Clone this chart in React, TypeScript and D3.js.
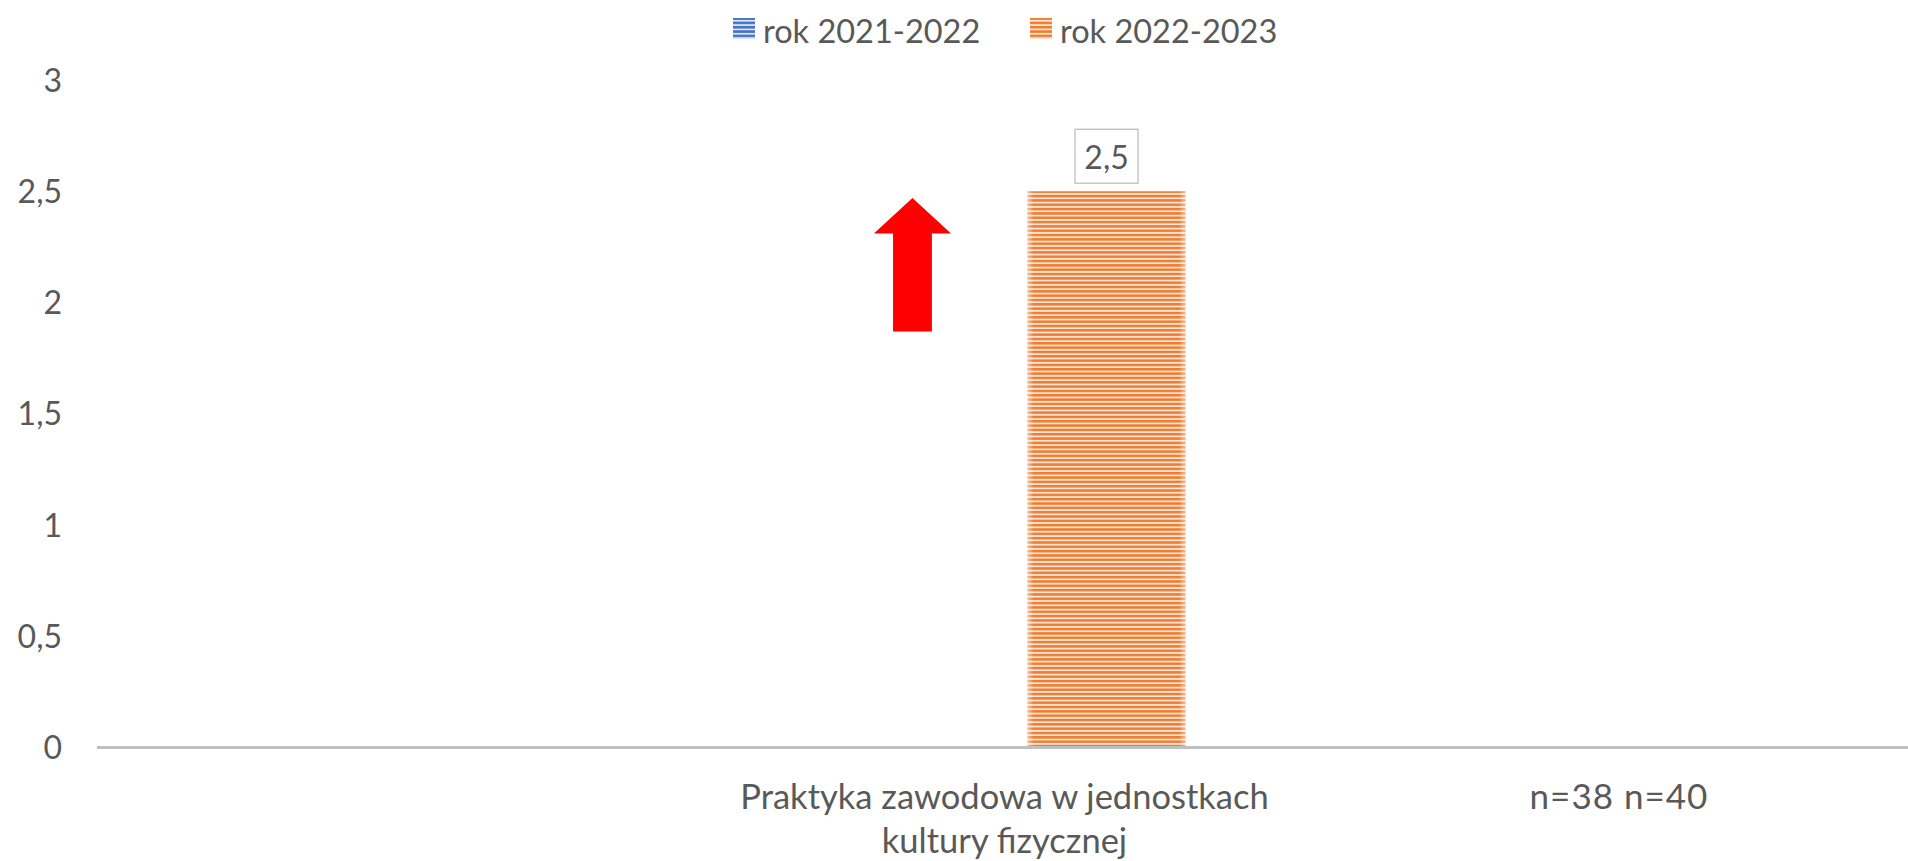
import React from "react";
import * as d3 from "d3";

const CATEGORY_LABELS: string[][] = [["Praktyka zawodowa w jednostkach", "kultury fizycznej"]];
const SERIES = ["rok 2021-2022", "rok 2022-2023"];
const VALUES_2021_2022: (number | null)[] = [null];
const VALUES_2022_2023: (number | null)[] = [2.5];
const Y_TICKS = [0, 0.5, 1, 1.5, 2, 2.5, 3];
const NOTE_TEXT = "n=38 n=40";
// arrow annotation (data units) at category 0, series 0 slot
const ARROW_CATEGORY = 0;
const ARROW_TIP = 2.47;
const ARROW_NECK = 2.31;
const ARROW_BASE = 1.87;

const W = 1908;
const H = 861;
const FONT = "Lato, 'Open Sans', sans-serif";
const TEXT = "#595959";
const COLORS = ["#4472C4", "#ED7D31"];
const LIGHT = ["#DAE3F3", "#FCE4D6"];

export default function App() {
  const y = d3.scaleLinear().domain([0, 3]).range([747.5, 80]);
  const x0 = d3
    .scaleBand<number>()
    .domain(d3.range(CATEGORY_LABELS.length))
    .range([97, 1924])
    .paddingInner(0)
    .paddingOuter(0);
  const x1 = d3
    .scaleBand<string>()
    .domain(SERIES)
    .range([0, x0.bandwidth()])
    .paddingInner(0.177)
    .paddingOuter(3.845);
  const seriesValues = [VALUES_2021_2022, VALUES_2022_2023];
  const fmt = (v: number) => String(v).replace(".", ",");
  const bw = x1.bandwidth();

  const ax = (x0(ARROW_CATEGORY) as number) + (x1(SERIES[0]) as number) + bw / 2 - 2;
  const headHalf = bw * 0.244;
  const shaftHalf = bw * 0.123;
  const arrowPath = d3.path();
  arrowPath.moveTo(ax, y(ARROW_TIP));
  arrowPath.lineTo(ax + headHalf, y(ARROW_NECK));
  arrowPath.lineTo(ax + shaftHalf, y(ARROW_NECK));
  arrowPath.lineTo(ax + shaftHalf, y(ARROW_BASE));
  arrowPath.lineTo(ax - shaftHalf, y(ARROW_BASE));
  arrowPath.lineTo(ax - shaftHalf, y(ARROW_NECK));
  arrowPath.lineTo(ax - headHalf, y(ARROW_NECK));
  arrowPath.closePath();

  const legendX = [733, 1030];

  return (
    <svg
      width={W}
      height={H}
      style={{ position: "absolute", left: 0, top: 0, display: "block", background: "#fff" }}
      fontFamily={FONT}
    >
      <defs>
        {SERIES.map((s, i) => (
          <pattern
            key={s}
            id={`stripe${i}`}
            patternUnits="userSpaceOnUse"
            width={8}
            height={4.33}
          >
            <rect width={8} height={4.33} fill={LIGHT[i]} />
            <rect width={8} height={2.5} fill={COLORS[i]} />
          </pattern>
        ))}
        <linearGradient id="edgeFade" x1="0" x2="1" y1="0" y2="0">
          <stop offset="0" stopColor="#fff" stopOpacity={0.5} />
          <stop offset="0.04" stopColor="#fff" stopOpacity={0} />
          <stop offset="0.96" stopColor="#fff" stopOpacity={0} />
          <stop offset="1" stopColor="#fff" stopOpacity={0.5} />
        </linearGradient>
      </defs>

      {/* legend */}
      {SERIES.map((s, i) => (
        <g key={s}>
          <rect x={legendX[i]} y={18} width={22} height={21} fill={`url(#stripe${i})`} />
          <text x={legendX[i] + 30} y={43} fontSize={32.5} fill={TEXT}>
            {s}
          </text>
        </g>
      ))}

      {/* y tick labels */}
      {Y_TICKS.map((t) => (
        <text
          key={t}
          x={62}
          y={y(t)}
          dy="0.36em"
          textAnchor="end"
          fontSize={32}
          fill={TEXT}
        >
          {fmt(t)}
        </text>
      ))}

      {/* bars */}
      {CATEGORY_LABELS.map((_, ci) =>
        SERIES.map((s, si) => {
          const v = seriesValues[si][ci];
          if (v == null) return null;
          const bx = (x0(ci) as number) + (x1(s) as number);
          return (
            <g key={`${ci}-${si}`}>
              <rect x={bx} y={y(v)} width={bw} height={y(0) - y(v)} fill={`url(#stripe${si})`} />
              <rect x={bx} y={y(v)} width={bw} height={y(0) - y(v)} fill="url(#edgeFade)" />
            </g>
          );
        })
      )}

      {/* data labels */}
      {CATEGORY_LABELS.map((_, ci) =>
        SERIES.map((s, si) => {
          const v = seriesValues[si][ci];
          if (v == null) return null;
          const cx = (x0(ci) as number) + (x1(s) as number) + bw / 2;
          const top = y(v);
          return (
            <g key={`lbl-${ci}-${si}`}>
              <rect
                x={cx - 31.5}
                y={top - 62}
                width={63}
                height={54}
                fill="#fff"
                stroke="#BFBFBF"
                strokeWidth={1.3}
              />
              <text x={cx} y={top - 22} textAnchor="middle" fontSize={32} fill={TEXT}>
                {fmt(v)}
              </text>
            </g>
          );
        })
      )}

      {/* axis line */}
      <line x1={97} x2={x0.range()[1]} y1={y(0)} y2={y(0)} stroke="#BFBFBF" strokeWidth={3} />

      {/* category labels */}
      {CATEGORY_LABELS.map((lines, ci) => {
        const cx = (x0(ci) as number) + x0.bandwidth() / 2 - 6;
        return (
          <text key={ci} textAnchor="middle" fontSize={34.5} fill={TEXT}>
            {lines.map((l, li) => (
              <tspan key={li} x={cx} y={809 + li * 44}>
                {l}
              </tspan>
            ))}
          </text>
        );
      })}

      {/* sample size note */}
      <text x={1619} y={809} textAnchor="middle" fontSize={35} letterSpacing={1} fill={TEXT}>
        {NOTE_TEXT}
      </text>

      {/* arrow annotation */}
      <path d={arrowPath.toString()} fill="#FF0000" />
    </svg>
  );
}
